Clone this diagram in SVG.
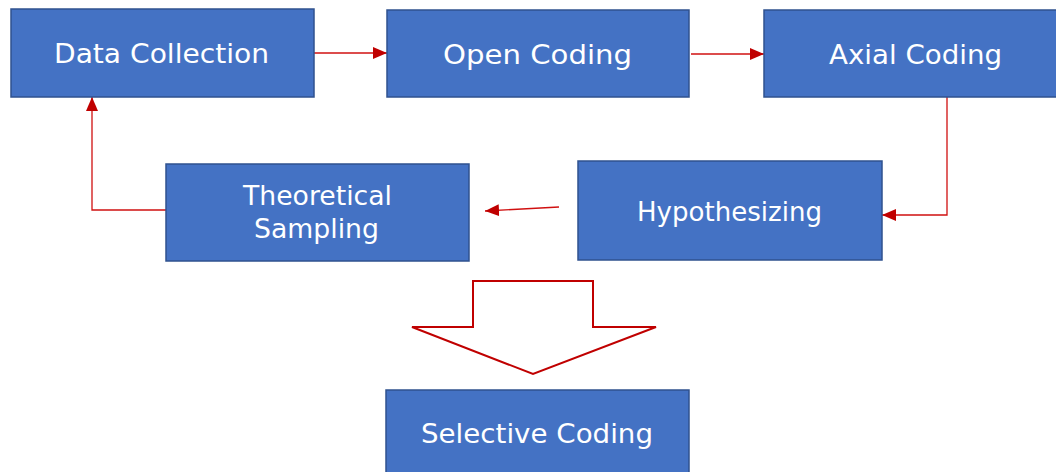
<svg xmlns="http://www.w3.org/2000/svg" width="1056" height="472" viewBox="0 0 1056 472">
<defs>
<style>
.box{fill:#4472C4;stroke:#2F528F;stroke-width:1.5}
.lbl{fill:#ffffff;font-family:"DejaVu Sans","Liberation Sans",Arial,sans-serif;font-size:26px;text-anchor:middle}
.con{fill:none;stroke:#D01010;stroke-width:1.3}
</style>
<marker id="ah" markerUnits="userSpaceOnUse" markerWidth="15" markerHeight="12" refX="14" refY="6" orient="auto">
<path d="M0,0 L14,6 L0,12 Z" fill="#C00000"/>
</marker>
</defs>
<rect width="1056" height="472" fill="#ffffff"/>
<g id="connectors">
<line class="con" x1="314" y1="53" x2="387" y2="53" marker-end="url(#ah)"/>
<line class="con" x1="691" y1="54" x2="764" y2="54" marker-end="url(#ah)"/>
<polyline class="con" points="947,97 947,215 882,215" marker-end="url(#ah)"/>
<line class="con" x1="559" y1="207" x2="485" y2="211" marker-end="url(#ah)"/>
<polyline class="con" points="166,210 92,210 92,97" marker-end="url(#ah)"/>
</g>
<g id="data-collection">
<rect class="box" x="11" y="9" width="303" height="88"/>
<text class="lbl" x="161.5" y="63" textLength="215" lengthAdjust="spacingAndGlyphs">Data Collection</text>
</g>
<g id="open-coding">
<rect class="box" x="387" y="10" width="302" height="87"/>
<text class="lbl" x="537.5" y="64" textLength="189" lengthAdjust="spacingAndGlyphs">Open Coding</text>
</g>
<g id="axial-coding">
<rect class="box" x="764" y="10" width="303" height="87"/>
<text class="lbl" x="915.5" y="64" textLength="173" lengthAdjust="spacingAndGlyphs">Axial Coding</text>
</g>
<g id="hypothesizing">
<rect class="box" x="578" y="161" width="304" height="99"/>
<text class="lbl" x="729.5" y="221" textLength="185" lengthAdjust="spacingAndGlyphs">Hypothesizing</text>
</g>
<g id="theoretical-sampling">
<rect class="box" x="166" y="164" width="303" height="97"/>
<text class="lbl" x="317.5" y="205" textLength="149" lengthAdjust="spacingAndGlyphs">Theoretical</text>
<text class="lbl" x="316.5" y="238" textLength="125" lengthAdjust="spacingAndGlyphs">Sampling</text>
</g>
<g id="big-arrow">
<polygon points="473,281 593,281 593,327 656,327 533,374 412,327 473,327" fill="#ffffff" stroke="#C00000" stroke-width="2"/>
</g>
<g id="selective-coding">
<rect class="box" x="386" y="390" width="303" height="90"/>
<text class="lbl" x="537" y="443" textLength="232" lengthAdjust="spacingAndGlyphs">Selective Coding</text>
</g>
</svg>
